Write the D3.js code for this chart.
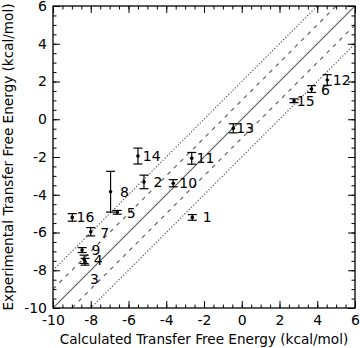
<!DOCTYPE html>
<html>
<head>
<meta charset="utf-8">
<script src="https://cdn.jsdelivr.net/npm/d3@7"></script>
<style>
  html, body { margin: 0; padding: 0; background: #fff; }
  svg { display: block; }
  text { font-family: "DejaVu Sans", sans-serif; fill: #000; }
</style>
</head>
<body>
<svg id="chart" width="360" height="348"></svg>
<script>
// Compound ids, calculated vs experimental transfer free energies (kcal/mol)
const ids        = ["1", "2", "3", "4", "5", "6", "7", "8", "9", "10", "11", "12", "13", "14", "15", "16"];
const calculated = [-2.62, -5.18, -8.3, -8.35, -6.6, 3.7, -8.0, -6.95, -8.46, -3.63, -2.65, 4.53, -0.45, -5.5, 2.77, -8.98];
const experiment = [-5.2, -3.32, -7.55, -7.42, -4.93, 1.6, -5.96, -3.84, -6.93, -3.39, -2.07, 2.08, -0.48, -1.95, 0.98, -5.2];
const expError   = [0.15, 0.36, 0.18, 0.22, 0.1, 0.18, 0.22, 1.08, 0.13, 0.19, 0.31, 0.28, 0.24, 0.42, 0.1, 0.2];
const tickValues = [-10, -8, -6, -4, -2, 0, 2, 4, 6];
const minorTicks = d3.range(-10, 6.01, 0.5);
// reference lines: y = x, y = x ± 1 (dashed), y = x ± 2 (dotted)
const guideOffsets = [0, 1, -1, 2, -2];

// label placement relative to the point, in pixels
const labelOffset = {
  "1": [10.5, 0], "2": [9.5, 0], "3": [5, 17], "4": [9.5, 0.5], "5": [9.5, 0.5],
  "6": [9.5, 1], "7": [9.5, 1], "8": [9.5, 0.5], "9": [9.5, 0],
  "10": [6, 0], "11": [4.8, 0], "12": [5.5, 0], "13": [3, 0], "14": [4.8, 0],
  "15": [2.8, 0], "16": [4.3, 0]
};

const svg = d3.select("#chart");
const margin = { left: 53, right: 5, top: 6, bottom: 40 };
const W = 360, H = 348;
const x = d3.scaleLinear().domain([-10, 6]).range([margin.left, W - margin.right]);
const y = d3.scaleLinear().domain([-10, 6]).range([H - margin.bottom, margin.top]);

const defs = svg.append("defs");
defs.append("clipPath").attr("id", "plot-clip")
  .append("rect")
  .attr("x", x(-10)).attr("y", y(6))
  .attr("width", x(6) - x(-10)).attr("height", y(-10) - y(6));

// guide lines
const guides = svg.append("g").attr("clip-path", "url(#plot-clip)");
guideOffsets.forEach(off => {
  const line = guides.append("line")
    .attr("x1", x(-10)).attr("y1", y(-10 + off))
    .attr("x2", x(6)).attr("y2", y(6 + off))
    .attr("fill", "none");
  if (off === 0) {
    line.attr("stroke", "#555").attr("stroke-width", 1.1);
  } else if (Math.abs(off) === 1) {
    line.attr("stroke", "#555").attr("stroke-width", 1.1).attr("stroke-dasharray", "4,5");
  } else {
    line.attr("stroke", "#555").attr("stroke-width", 1.2).attr("stroke-dasharray", "1.2,1.9");
  }
});

// axes with inward ticks on all four sides
function styleAxis(g) {
  g.select(".domain").remove();
  g.selectAll("line").attr("stroke", "#000").attr("stroke-width", 1);
}
const fmt = d => d3.format("d")(d).replace("\u2212", "-");
const major = 7, minor = 3.5;
const bottomMinor = d3.axisBottom(x).tickValues(minorTicks).tickSize(-minor).tickFormat("");
const bottomMajor = d3.axisBottom(x).tickValues(tickValues).tickSize(-major).tickPadding(7).tickFormat(fmt);
const topMinor = d3.axisTop(x).tickValues(minorTicks).tickSize(-minor).tickFormat("");
const topMajor = d3.axisTop(x).tickValues(tickValues).tickSize(-major).tickFormat("");
const leftMinor = d3.axisLeft(y).tickValues(minorTicks).tickSize(-minor).tickFormat("");
const leftMajor = d3.axisLeft(y).tickValues(tickValues).tickSize(-major).tickPadding(6).tickFormat(fmt);
const rightMinor = d3.axisRight(y).tickValues(minorTicks).tickSize(-minor).tickFormat("");
const rightMajor = d3.axisRight(y).tickValues(tickValues).tickSize(-major).tickFormat("");

const by = y(-10), ty = y(6), lx = x(-10), rx = x(6);
[bottomMinor, bottomMajor].forEach(a => svg.append("g").attr("transform", `translate(0,${by})`).call(a).call(styleAxis));
[topMinor, topMajor].forEach(a => svg.append("g").attr("transform", `translate(0,${ty})`).call(a).call(styleAxis));
[leftMinor, leftMajor].forEach(a => svg.append("g").attr("transform", `translate(${lx},0)`).call(a).call(styleAxis));
[rightMinor, rightMajor].forEach(a => svg.append("g").attr("transform", `translate(${rx},0)`).call(a).call(styleAxis));

svg.selectAll(".tick text")
  .attr("font-family", "DejaVu Sans, sans-serif")
  .attr("font-size", 14)
  .attr("fill", "#000");

// frame
svg.append("rect")
  .attr("x", lx).attr("y", ty)
  .attr("width", rx - lx).attr("height", by - ty)
  .attr("fill", "none").attr("stroke", "#000").attr("stroke-width", 1.3);

// points with error bars
const data = ids.map((id, i) => ({ id, cx: calculated[i], ey: experiment[i], err: expError[i] }));
const capHalf = 4.5;
const pts = svg.append("g").selectAll("g").data(data).join("g");
pts.append("line")
  .attr("x1", d => x(d.cx)).attr("x2", d => x(d.cx))
  .attr("y1", d => y(d.ey - d.err)).attr("y2", d => y(d.ey + d.err))
  .attr("stroke", "#000").attr("stroke-width", 1.2);
pts.append("line")
  .attr("x1", d => x(d.cx) - capHalf).attr("x2", d => x(d.cx) + capHalf)
  .attr("y1", d => y(d.ey + d.err)).attr("y2", d => y(d.ey + d.err))
  .attr("stroke", "#000").attr("stroke-width", 1.2);
pts.append("line")
  .attr("x1", d => x(d.cx) - capHalf).attr("x2", d => x(d.cx) + capHalf)
  .attr("y1", d => y(d.ey - d.err)).attr("y2", d => y(d.ey - d.err))
  .attr("stroke", "#000").attr("stroke-width", 1.2);
pts.append("circle")
  .attr("cx", d => x(d.cx)).attr("cy", d => y(d.ey))
  .attr("r", 1.8).attr("fill", "#000");
pts.append("text")
  .attr("x", d => x(d.cx) + labelOffset[d.id][0])
  .attr("y", d => y(d.ey) + labelOffset[d.id][1])
  .attr("dy", "0.36em")
  .attr("font-size", 14)
  .text(d => d.id);

// axis titles
svg.append("text")
  .attr("x", (lx + rx) / 2).attr("y", 344)
  .attr("text-anchor", "middle")
  .attr("font-size", 13.6)
  .text("Calculated Transfer Free Energy (kcal/mol)");
svg.append("text")
  .attr("transform", `translate(13,${(ty + by) / 2}) rotate(-90)`)
  .attr("text-anchor", "middle")
  .attr("font-size", 13.6)
  .text("Experimental Transfer Free Energy (kcal/mol)");
</script>
</body>
</html>
